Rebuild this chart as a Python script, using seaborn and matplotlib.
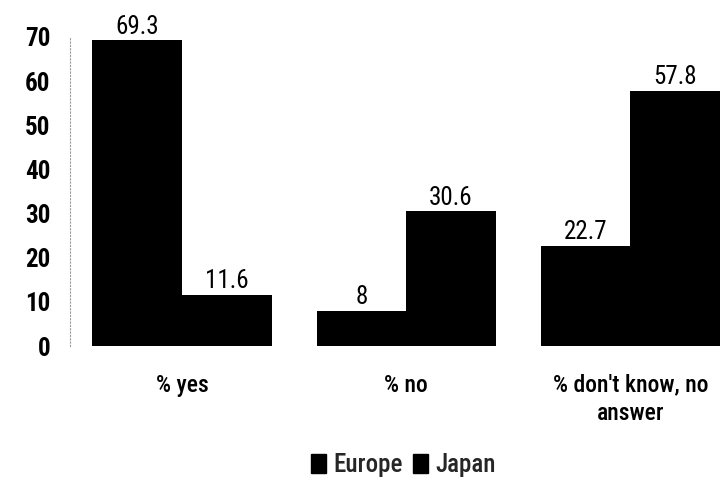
import matplotlib
matplotlib.use("Agg")
import matplotlib.pyplot as plt
import seaborn as sns
import pandas as pd
from matplotlib.patches import Patch

categories = ["% yes", "% no", "% don't know, no\nanswer"]
europe = [69.3, 8, 22.7]
japan = [11.6, 30.6, 57.8]
series = ["Europe", "Japan"]

df = pd.DataFrame({
    "category": categories * 2,
    "value": europe + japan,
    "region": ["Europe"] * 3 + ["Japan"] * 3,
})

sns.set_theme(style="white")
plt.rcParams["font.family"] = ["Roboto Condensed", "DejaVu Sans"]

fig = plt.figure(figsize=(7.24, 4.86), dpi=100)
ax = fig.add_axes([70 / 724, 1 - 346 / 486, 650 / 724, 309 / 486])

sns.barplot(data=df, x="category", y="value", hue="region", order=categories,
            hue_order=series, palette=["black", "black"], width=0.8,
            saturation=1, legend=False, linewidth=0, ax=ax)

for cont in ax.containers:
    labels = [f"{v:g}" for v in cont.datavalues]
    ax.bar_label(cont, labels=labels, padding=1, fontsize=18, color="black")

ax.set_xlim(-0.5, 2.4)
ax.set_ylim(0, 70)
ax.set_yticks(range(0, 71, 10))
ax.set_xlabel("")
ax.set_ylabel("")
ax.tick_params(axis="y", labelsize=18, length=0, pad=14, labelcolor="black")
ax.tick_params(axis="x", labelsize=17, length=0, pad=20, labelcolor="black")
for lbl in ax.get_yticklabels():
    lbl.set_fontweight("bold")
for lbl in ax.get_xticklabels():
    lbl.set_fontweight("medium")
    lbl.set_linespacing(1.3)
for side in ["top", "right", "bottom"]:
    ax.spines[side].set_visible(False)
ax.spines["left"].set_color("#999999")
ax.spines["left"].set_linestyle((0, (1, 2)))
ax.spines["left"].set_linewidth(0.8)

handles = [Patch(facecolor="black", edgecolor="black", label=s) for s in series]
fig.legend(handles=handles, loc="center", bbox_to_anchor=(403 / 724, 1 - 465 / 486),
           ncol=2, frameon=False, prop={"size": 18, "weight": "medium"},
           handlelength=0.6, handleheight=0.8, handletextpad=0.3, columnspacing=0.4)

fig.savefig("out.png", dpi=100)
